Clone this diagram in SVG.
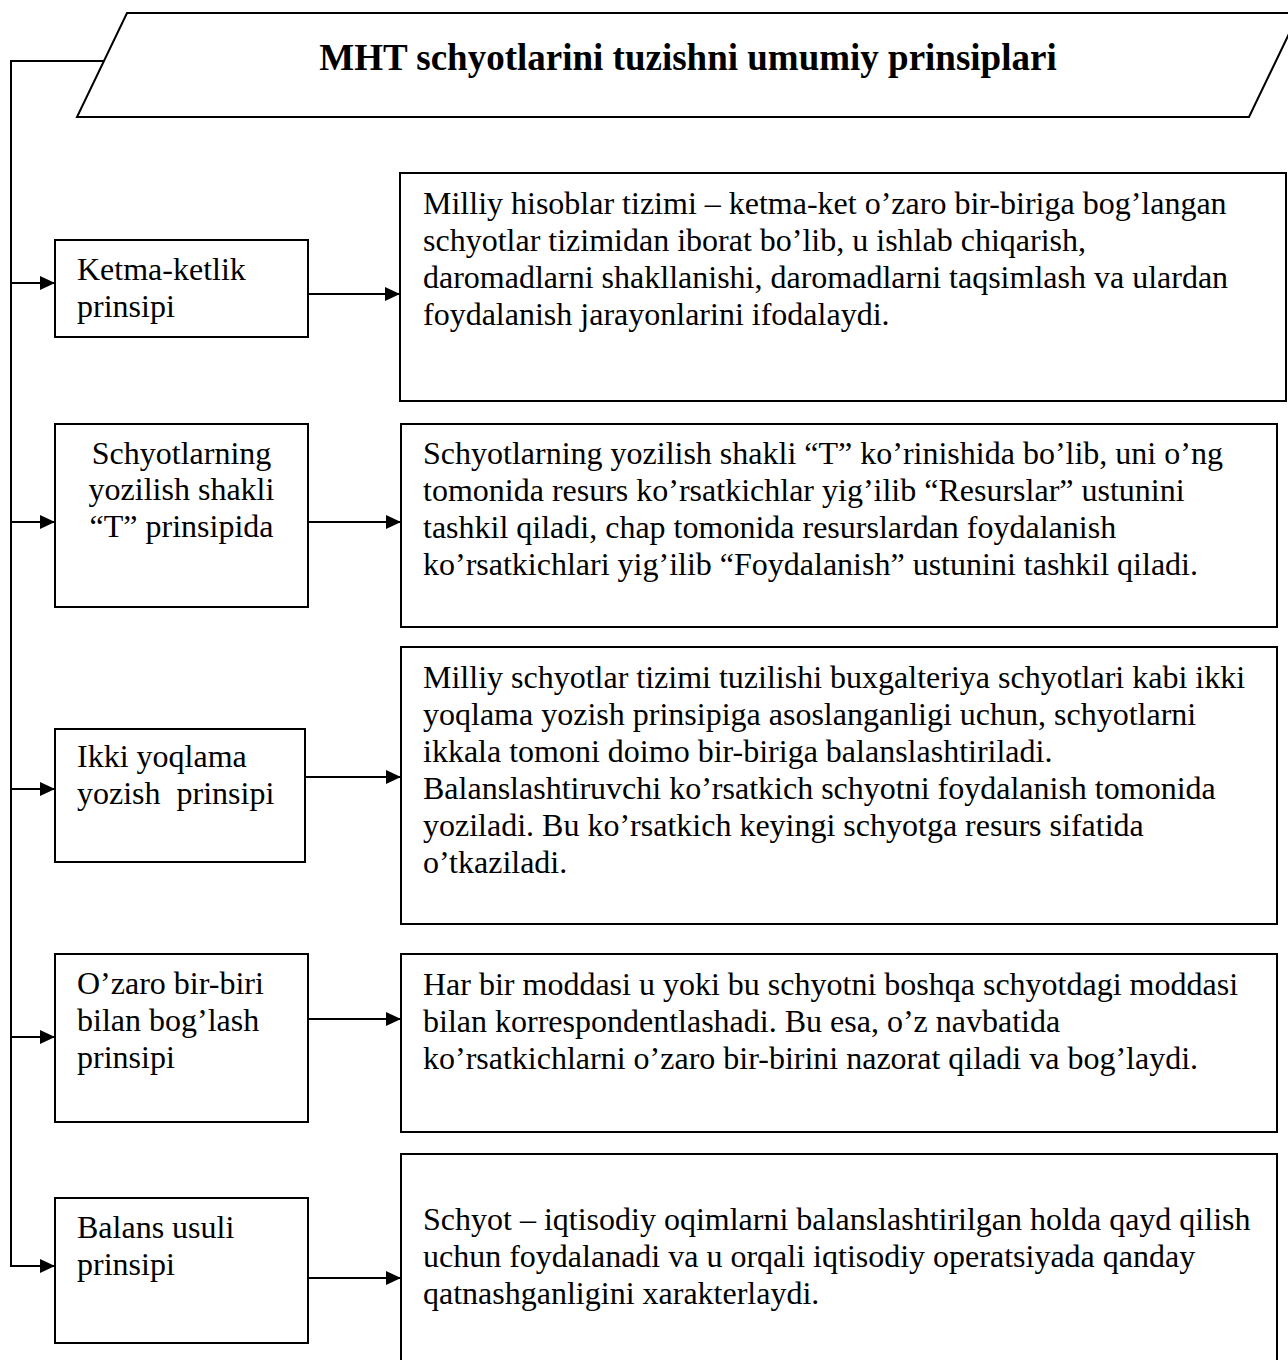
<svg xmlns="http://www.w3.org/2000/svg" width="1288" height="1360" viewBox="0 0 1288 1360">
<style>
.bg{fill:#fff}
.box{fill:#fff;stroke:#000;stroke-width:2}
.t{font-family:"Liberation Serif","Times New Roman",serif;font-size:32px;fill:#000;white-space:pre}
.title{font-family:"Liberation Serif","Times New Roman",serif;font-size:37px;font-weight:bold;fill:#000}
.ln{fill:none;stroke:#000;stroke-width:2}
.ar{fill:none;stroke:#000;stroke-width:2;marker-end:url(#ah)}
</style>
<defs>
<marker id="ah" markerUnits="userSpaceOnUse" markerWidth="16" markerHeight="14" refX="15" refY="7" orient="auto">
<path d="M0,0 L15,7 L0,14 Z" fill="#000"/>
</marker>
</defs>
<rect class="bg" x="0" y="0" width="1288" height="1360"/>

<g id="title">
<polygon class="box" points="127,13 1299,13 1249,117 77,117"/>
<text class="title" x="688" y="70" text-anchor="middle">MHT schyotlarini tuzishni umumiy prinsiplari</text>
</g>

<g id="p1">
<rect class="box" x="55" y="240" width="253" height="97"/>
<text class="t"><tspan x="77" y="280">Ketma-ketlik</tspan><tspan x="77" y="317">prinsipi</tspan></text>
</g>
<g id="d1">
<rect class="box" x="400" y="173" width="886" height="228"/>
<text class="t"><tspan x="423" y="214">Milliy hisoblar tizimi – ketma-ket o’zaro bir-biriga bog’langan</tspan><tspan x="423" y="251">schyotlar tizimidan iborat bo’lib, u ishlab chiqarish,</tspan><tspan x="423" y="288">daromadlarni shakllanishi, daromadlarni taqsimlash va ulardan</tspan><tspan x="423" y="325">foydalanish jarayonlarini ifodalaydi.</tspan></text>
</g>

<g id="p2">
<rect class="box" x="55" y="424" width="253" height="183"/>
<text class="t" text-anchor="middle"><tspan x="181.5" y="464">Schyotlarning</tspan><tspan x="181.5" y="500">yozilish shakli</tspan><tspan x="181.5" y="537">“T” prinsipida</tspan></text>
</g>
<g id="d2">
<rect class="box" x="401" y="424" width="876" height="203"/>
<text class="t"><tspan x="423" y="464">Schyotlarning yozilish shakli “T” ko’rinishida bo’lib, uni o’ng</tspan><tspan x="423" y="501">tomonida resurs ko’rsatkichlar yig’ilib “Resurslar” ustunini</tspan><tspan x="423" y="538">tashkil qiladi, chap tomonida resurslardan foydalanish</tspan><tspan x="423" y="575">ko’rsatkichlari yig’ilib “Foydalanish” ustunini tashkil qiladi.</tspan></text>
</g>

<g id="p3">
<rect class="box" x="55" y="729" width="250" height="133"/>
<text class="t"><tspan x="77" y="767">Ikki yoqlama</tspan><tspan x="77" y="804">yozish  prinsipi</tspan></text>
</g>
<g id="d3">
<rect class="box" x="401" y="647" width="876" height="277"/>
<text class="t"><tspan x="423" y="688">Milliy schyotlar tizimi tuzilishi buxgalteriya schyotlari kabi ikki</tspan><tspan x="423" y="725">yoqlama yozish prinsipiga asoslanganligi uchun, schyotlarni</tspan><tspan x="423" y="762">ikkala tomoni doimo bir-biriga balanslashtiriladi.</tspan><tspan x="423" y="799">Balanslashtiruvchi ko’rsatkich schyotni foydalanish tomonida</tspan><tspan x="423" y="836">yoziladi. Bu ko’rsatkich keyingi schyotga resurs sifatida</tspan><tspan x="423" y="873">o’tkaziladi.</tspan></text>
</g>

<g id="p4">
<rect class="box" x="55" y="954" width="253" height="168"/>
<text class="t"><tspan x="77" y="994">O’zaro bir-biri</tspan><tspan x="77" y="1031">bilan bog’lash</tspan><tspan x="77" y="1068">prinsipi</tspan></text>
</g>
<g id="d4">
<rect class="box" x="401" y="954" width="876" height="178"/>
<text class="t"><tspan x="423" y="995">Har bir moddasi u yoki bu schyotni boshqa schyotdagi moddasi</tspan><tspan x="423" y="1032">bilan korrespondentlashadi. Bu esa, o’z navbatida</tspan><tspan x="423" y="1069">ko’rsatkichlarni o’zaro bir-birini nazorat qiladi va bog’laydi.</tspan></text>
</g>

<g id="p5">
<rect class="box" x="55" y="1198" width="253" height="145"/>
<text class="t"><tspan x="77" y="1238">Balans usuli</tspan><tspan x="77" y="1275">prinsipi</tspan></text>
</g>
<g id="d5">
<rect class="box" x="401" y="1154" width="876" height="220"/>
<text class="t"><tspan x="423" y="1230">Schyot – iqtisodiy oqimlarni balanslashtirilgan holda qayd qilish</tspan><tspan x="423" y="1267">uchun foydalanadi va u orqali iqtisodiy operatsiyada qanday</tspan><tspan x="423" y="1304">qatnashganligini xarakterlaydi.</tspan></text>
</g>

<g id="connectors">
<polyline class="ln" points="104,61 11,61 11,1266"/>
<line class="ar" x1="11" y1="283" x2="55" y2="283"/>
<line class="ar" x1="11" y1="522" x2="55" y2="522"/>
<line class="ar" x1="11" y1="789" x2="55" y2="789"/>
<line class="ar" x1="11" y1="1037" x2="55" y2="1037"/>
<line class="ar" x1="10" y1="1266" x2="55" y2="1266"/>
<line class="ar" x1="308" y1="294" x2="400" y2="294"/>
<line class="ar" x1="308" y1="522" x2="401" y2="522"/>
<line class="ar" x1="305" y1="777" x2="401" y2="777"/>
<line class="ar" x1="307" y1="1019" x2="401" y2="1019"/>
<line class="ar" x1="308" y1="1278" x2="401" y2="1278"/>
</g>
</svg>
